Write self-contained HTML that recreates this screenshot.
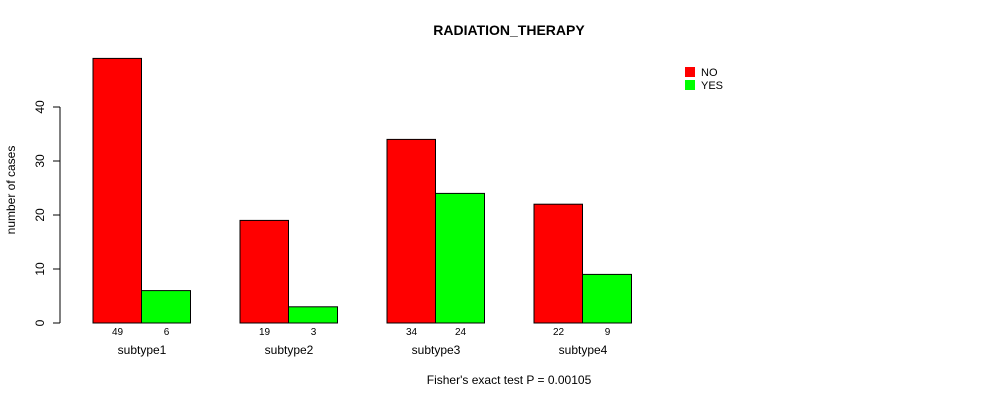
<!DOCTYPE html>
<html><head><meta charset="utf-8"><style>
body{margin:0;background:#fff}
svg text{font-family:"Liberation Sans",sans-serif;fill:#000}
</style></head><body>
<svg id="chart" width="990" height="400" xmlns="http://www.w3.org/2000/svg">
<text x="509" y="35" font-size="14" font-weight="bold" text-anchor="middle">RADIATION_THERAPY</text>
<text transform="translate(15,190) rotate(-90)" font-size="12" text-anchor="middle">number of cases</text>
<text x="509" y="384" font-size="12" text-anchor="middle">Fisher's exact test P = 0.00105</text>
<g id="axis"></g>
<g id="bars"></g>
<g>
<rect x="685" y="67" width="10" height="10" fill="#ff0000"/>
<text x="701" y="76" font-size="11">NO</text>
<rect x="685" y="80" width="10" height="10" fill="#00ff00"/>
<text x="701" y="89" font-size="11">YES</text>
</g>
</svg>
<script>
const categories=["subtype1","subtype2","subtype3","subtype4"];
const noValues=[49,19,34,22];
const yesValues=[6,3,24,9];
const yTicks=[0,10,20,30,40];
const NS="http://www.w3.org/2000/svg";
const y0=323, scale=5.4;
function yPos(v){return y0-v*scale;}
function groupX(i){return 93+i*147;}
const barW=49;
const axis=document.getElementById('axis');
const bars=document.getElementById('bars');
function mk(tag,attrs,parent){const e=document.createElementNS(NS,tag);for(const k in attrs)e.setAttribute(k,attrs[k]);parent.appendChild(e);return e;}
const al=mk('line',{x1:60,x2:60,y1:yPos(0),y2:yPos(40),stroke:'#000'},axis);


yTicks.forEach(t=>{
  const tk=mk('line',{x1:53,x2:60,y1:yPos(t),y2:yPos(t),stroke:'#000'},axis);
  
  
  const tx=mk('text',{transform:`translate(44,${yPos(t)}) rotate(-90)`,'font-size':12,'text-anchor':'middle'},axis);
  tx.textContent=t;
  
  
});
categories.forEach((c,i)=>{
  const x=groupX(i);
  const r1=mk('rect',{x:x,y:yPos(noValues[i]),width:barW-0.5,height:noValues[i]*scale,fill:'#ff0000',stroke:'#000'},bars);
  
  
  const r2=mk('rect',{x:x+barW-0.5,y:yPos(yesValues[i]),width:barW,height:yesValues[i]*scale,fill:'#00ff00',stroke:'#000'},bars);
  
  
  const l1=mk('text',{x:x+barW/2,y:335,'font-size':10,'text-anchor':'middle'},bars);
  l1.textContent=noValues[i];
  
  
  const l2=mk('text',{x:x+barW*1.5,y:335,'font-size':10,'text-anchor':'middle'},bars);
  l2.textContent=yesValues[i];
  
  
  const cl=mk('text',{x:x+barW,y:354,'font-size':12,'text-anchor':'middle'},bars);
  cl.textContent=c;
  
  
});
</script>
</body></html>
